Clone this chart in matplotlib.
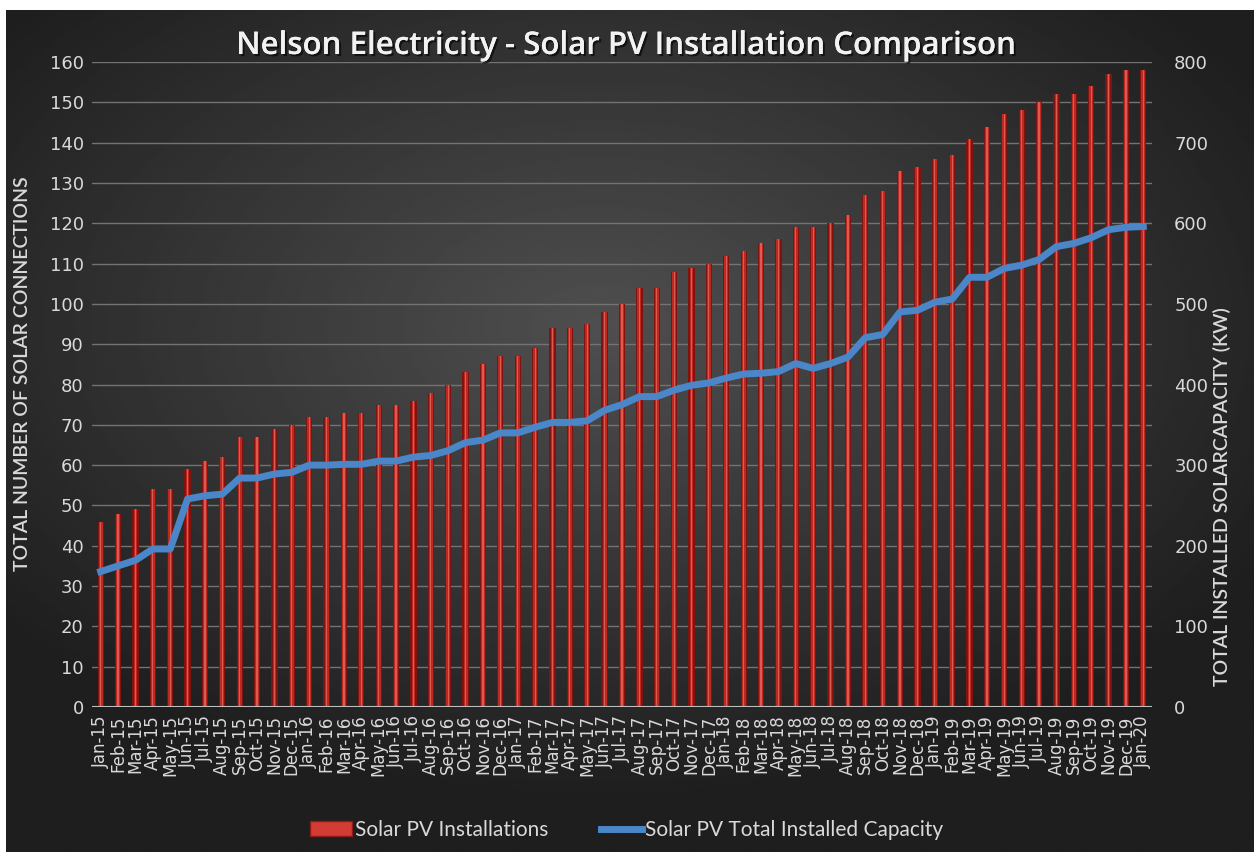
import numpy as np
import matplotlib
matplotlib.use("Agg")
import matplotlib.pyplot as plt
from matplotlib.patches import Patch
from matplotlib.lines import Line2D
import matplotlib.patheffects as pe

# month labels Jan-15 .. Jan-20
months = ['Jan', 'Feb', 'Mar', 'Apr', 'May', 'Jun', 'Jul', 'Aug', 'Sep', 'Oct', 'Nov', 'Dec']
labels = [m + '-' + str(y) for y in range(15, 20) for m in months] + ['Jan-20']

# total number of solar connections (left axis)
installs = [46, 48, 49, 54, 54, 59, 61, 62, 67, 67, 69, 70,
            72, 72, 73, 73, 75, 75, 76, 78, 80, 83, 85, 87,
            87, 89, 94, 94, 95, 98, 100, 104, 104, 108, 109, 110,
            112, 113, 115, 116, 119, 119, 120, 122, 127, 128, 133, 134,
            136, 137, 141, 144, 147, 148, 150, 152, 152, 154, 157, 158,
            158]

# total installed capacity in kW (right axis)
capacity = [168, 175, 182, 196, 196, 258, 262, 264, 284, 284, 289, 291,
            300, 300, 301, 301, 305, 305, 310, 312, 318, 328, 331, 340,
            340, 347, 353, 353, 355, 368, 375, 385, 385, 393, 399, 402,
            408, 413, 414, 416, 426, 420, 426, 434, 458, 462, 490, 492,
            502, 506, 533, 533, 544, 548, 555, 571, 575, 582, 592, 595,
            596]

txt = '#d9d9d9'
lab_font = ['Lato', 'DejaVu Sans']

fig = plt.figure(figsize=(12.54, 8.52), dpi=100)
fig.patch.set_facecolor('white')

# dark radial gradient background
bg = fig.add_axes([6 / 1254, 0, 1 - 6 / 1254, 842 / 852], zorder=-5)
gx, gy = np.meshgrid(np.linspace(-1, 1, 400), np.linspace(-1, 1, 300))
r = np.sqrt(((gx + 0.05) / 1.1) ** 2 + ((gy + 0.25) / 1.0) ** 2)
shade = np.clip(0.31 - 0.17 * r, 0.12, 0.31)
bg.imshow(shade, cmap='gray', vmin=0, vmax=1, aspect='auto', extent=[0, 1, 0, 1])
bg.axis('off')

ax = fig.add_axes([92 / 1254, 1 - 707 / 852, 1060 / 1254, 645 / 852])
ax.set_facecolor('none')
x = np.arange(len(labels))

# cylinder-ish bars
ax.bar(x, installs, width=0.36, color='#7e1310', zorder=2)
ax.bar(x, installs, width=0.22, color='#bb2922', zorder=3)
ax.bar(x, installs, width=0.07, color='#dc5a50', zorder=4)

ax.set_xlim(-0.5, len(labels) - 0.5)
ax.set_ylim(0, 160)
ax.set_yticks(range(0, 161, 10))
ax.yaxis.grid(True, color='#737373', linewidth=1.0, zorder=0)
ax.set_axisbelow(True)
for s in ax.spines.values():
    s.set_visible(False)
ax.axhline(0, color='#bfbfbf', linewidth=1.5, zorder=5)
ax.tick_params(axis='both', length=0, colors=txt)
ax.tick_params(axis='y', labelsize=13, pad=6)
ax.set_xticks(x)
ax.set_xticklabels(labels, rotation=90, fontsize=12)
ax.tick_params(axis='x', pad=6)
ax.set_ylabel('TOTAL NUMBER OF SOLAR CONNECTIONS', color=txt, fontsize=14,
              family=lab_font, fontweight='semibold')
ax.yaxis.set_label_coords(-0.058, 0.516)

ax2 = ax.twinx()
ax2.plot(x, capacity, color='#4a86c8', linewidth=5, zorder=6)
ax2.set_ylim(0, 800)
ax2.set_yticks(range(0, 801, 100))
for s in ax2.spines.values():
    s.set_visible(False)
ax2.tick_params(axis='y', length=0, colors=txt, labelsize=13, pad=16)
ax2.set_ylabel('TOTAL INSTALLED SOLARCAPACITY (KW)', color=txt, fontsize=14,
               family=lab_font, fontweight='semibold')
ax2.yaxis.set_label_coords(1.058, 0.326)

fig.text(0.5, 1 - 46 / 852, 'Nelson Electricity - Solar PV Installation Comparison',
         ha='center', va='center', color='#f2f2f2', fontsize=22.5, fontweight='semibold',
         family=['Open Sans', 'DejaVu Sans'],
         path_effects=[pe.withSimplePatchShadow(offset=(1.5, -1.5), shadow_rgbFace='black', alpha=0.6), pe.Normal()])

handles = [Patch(facecolor='#d23c34', edgecolor='#8e1a17'),
           Line2D([0], [0], color='#4a86c8', linewidth=5)]
leg = fig.legend(handles, ['Solar PV Installations', 'Solar PV Total Installed Capacity'],
                 loc='center', bbox_to_anchor=(0.5, 1 - 830 / 852), ncol=2, frameon=False,
                 labelcolor=txt, handlelength=2.0, handletextpad=0.15,
                 columnspacing=2.5, prop={'family': lab_font, 'size': 15})

fig.savefig('out.png', dpi=100, facecolor=fig.get_facecolor())
